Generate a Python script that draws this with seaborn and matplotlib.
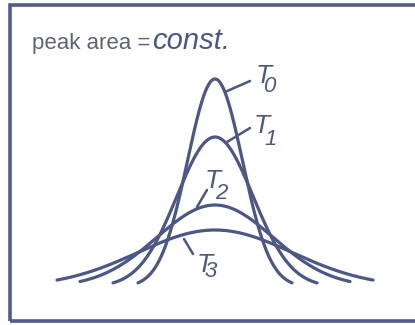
import numpy as np
import pandas as pd
import matplotlib
matplotlib.use("Agg")
import matplotlib.pyplot as plt
from matplotlib.patches import Rectangle
import seaborn as sns

# Peak profiles at four temperatures: equal area, broadening as T rises
temps = ["0", "1", "2", "3"]
peak_heights = [208, 150, 82, 57]      # signal above baseline
peak_widths = [27.5, 38, 58, 77]       # Gaussian sigma
half_extents = [77, 102, 135, 158]     # drawn range on each side of the centre

# Label anchors: T letter (left, baseline), subscript digit (left, baseline)
label_T_pos = [(41, 204), (39, 154), (-10, 99), (-18, 15)]
label_sub_pos = [(48, 195), (49, 142), (0, 88), (-11, 10)]
leaders = [((10, 195), (35, 206)),
           ((12, 145), (35, 159)),
           ((-18, 80), (-8, 97)),
           ((-31, 48), (-22, 33))]

ink = "#4b5787"
frame_col = "#535b87"
grey_text = "#5e6472"

rows = []
for t, h, s, e in zip(temps, peak_heights, peak_widths, half_extents):
    x = np.linspace(-e, e, 400)
    y = h * np.exp(-x ** 2 / (2 * s ** 2))
    rows.append(pd.DataFrame({"x": x, "signal": y, "T": t}))
df = pd.concat(rows, ignore_index=True)

sns.set_theme(style="white")
plt.rcParams["font.family"] = ["Liberation Sans", "DejaVu Sans"]

fig = plt.figure(figsize=(4.15, 3.25), dpi=100)
ax = fig.add_axes([0, 0, 1, 1])
ax.set_xlim(-215, 200)
ax.set_ylim(-38, 287)
ax.axis("off")

sns.lineplot(data=df, x="x", y="signal", hue="T", palette=[ink] * 4,
             estimator=None, sort=False, legend=False, linewidth=2.3,
             ax=ax)
for line in ax.lines:
    line.set_solid_capstyle("round")

# Enclosing frame (open on the right side, cut by the edge)
ax.add_patch(Rectangle((-205, -34), 430, 316, fill=False, edgecolor=frame_col,
                       linewidth=2.6, clip_on=False))

ax.text(-183, 238, "peak area =", fontsize=16, color=grey_text,
        va="baseline", ha="left")
ax.text(-63, 238, "const.", fontsize=21, style="italic", color=ink,
        va="baseline", ha="left")

for (tx, ty), (sx, sy), (p0, p1), t in zip(label_T_pos, label_sub_pos, leaders, temps):
    ax.plot([p0[0], p1[0]], [p0[1], p1[1]], color=ink, linewidth=1.8,
            solid_capstyle="round")
    ax.text(tx, ty, "T", fontsize=19, style="italic", color=ink,
            va="baseline", ha="left")
    ax.text(sx, sy, t, fontsize=16, style="italic", color=ink,
            va="baseline", ha="left")

fig.savefig("out.png", dpi=100, facecolor="white")
